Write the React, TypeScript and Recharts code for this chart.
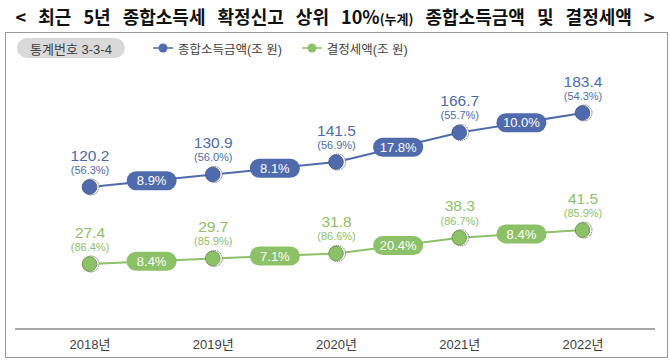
import { Line, LineChart, XAxis, YAxis } from "recharts";

const years = ["2018년", "2019년", "2020년", "2021년", "2022년"];
const incomeValues = [120.2, 130.9, 141.5, 166.7, 183.4];
const incomeShares = ["56.3%", "56.0%", "56.9%", "55.7%", "54.3%"];
const incomeGrowth = ["8.9%", "8.1%", "17.8%", "10.0%"];
const taxValues = [27.4, 29.7, 31.8, 38.3, 41.5];
const taxShares = ["86.4%", "85.9%", "86.6%", "86.7%", "85.9%"];
const taxGrowth = ["8.4%", "7.1%", "20.4%", "8.4%"];

const BLUE = "#4f6bad";
const BLUE_DARK = "#3a4f85";
const GREEN = "#8cc168";
const GREEN_DARK = "#5f8f40";
const LABEL_FONT = "'Liberation Sans', 'Noto Sans CJK KR', sans-serif";
const NARROW_FONT = "'Liberation Sans Narrow', 'Liberation Sans', 'Noto Sans CJK KR', sans-serif";

const pointData = years.map((year, i) => ({
  x: i,
  year,
  income: incomeValues[i],
  tax: taxValues[i],
}));

// pills sit half way between two years, on the line
const incomePills = incomeGrowth.map((g, i) => ({
  x: i + 0.5,
  v: (incomeValues[i] + incomeValues[i + 1]) / 2,
  label: g,
}));
const taxPills = taxGrowth.map((g, i) => ({
  x: i + 0.5,
  v: (taxValues[i] + taxValues[i + 1]) / 2,
  label: g,
}));

function makeDot(color: string, edge: string) {
  return (props: any) => {
    const { cx, cy, index } = props;
    if (cx == null || cy == null) return <g key={`d-${index}`} />;
    return (
      <g key={`d-${index}`}>
        <circle cx={cx + 1} cy={cy} r={8} fill="#fff" stroke="#6b6b6b" strokeWidth={1} strokeDasharray="1.2 0.8" />
        <circle cx={cx - 0.5} cy={cy} r={7.3} fill={color} stroke={edge} strokeWidth={0.8} />
      </g>
    );
  };
}

function makePill(color: string) {
  return (props: any) => {
    const { cx, cy, index, payload } = props;
    if (cx == null || cy == null) return <g key={`p-${index}`} />;
    return (
      <g key={`p-${index}`}>
        <rect x={cx - 25} y={cy - 9.5} width={50} height={19} rx={9.5} fill={color} />
        <text
          x={cx}
          y={cy}
          dy="0.36em"
          textAnchor="middle"
          fill="#fff"
          fontSize={13}
          fontFamily={NARROW_FONT}
        >
          {payload.label}
        </text>
      </g>
    );
  };
}

function makeLabel(color: string, values: number[], shares: string[]) {
  return (props: any) => {
    const { x, y, index } = props;
    return (
      <g key={`l-${index}`}>
        <text x={x} y={y - 32} dy="0.36em" textAnchor="middle" fill={color} fontSize={15.5} fontFamily={LABEL_FONT}>
          {values[index].toFixed(1)}
        </text>
        <text x={x} y={y - 17} dy="0.36em" textAnchor="middle" fill={color} fontSize={11} fontFamily={LABEL_FONT}>
          ({shares[index]})
        </text>
      </g>
    );
  };
}

function Legend() {
  return (
    <div style={{ position: "absolute", left: 17, top: 38, height: 20, display: "flex", alignItems: "center", fontFamily: NARROW_FONT, color: "#404040" }}>
      <div
        style={{
          width: 108,
          height: 20,
          borderRadius: 10,
          background: "#d9d9d9",
          fontSize: 13,
          display: "flex",
          alignItems: "center",
          justifyContent: "center",
        }}
      >
        통계번호 3-3-4
      </div>
      <svg width={20} height={12} style={{ marginLeft: 28 }}>
        <line x1={0} y1={6} x2={20} y2={6} stroke={BLUE} strokeWidth={1.5} />
        <circle cx={10} cy={6} r={4.5} fill={BLUE} />
      </svg>
      <span style={{ fontSize: 12.5, marginLeft: 5 }}>종합소득금액(조 원)</span>
      <svg width={20} height={12} style={{ marginLeft: 20 }}>
        <line x1={0} y1={6} x2={20} y2={6} stroke={GREEN} strokeWidth={1.5} />
        <circle cx={10} cy={6} r={4.5} fill={GREEN} />
      </svg>
      <span style={{ fontSize: 12.5, marginLeft: 5 }}>결정세액(조 원)</span>
    </div>
  );
}

export default function App() {
  return (
    <div style={{ position: "absolute", left: 0, top: 0, width: 670, height: 361, background: "#fff", overflow: "hidden" }}>
      <div
        style={{
          position: "absolute",
          left: 0,
          top: 3,
          width: 670,
          textAlign: "center",
          fontFamily: "'Noto Sans CJK KR', sans-serif",
          fontWeight: 700,
          fontSize: 18,
          wordSpacing: 8,
          color: "#111",
          whiteSpace: "nowrap",
        }}
      >
        &lt; 최근 5년 종합소득세 확정신고 상위 10%<span style={{ fontSize: 13 }}>(누계)</span> 종합소득금액 및 결정세액 &gt;
      </div>
      <div style={{ position: "absolute", left: 5, top: 32, width: 661, height: 324, border: "1px solid #9a9a9a" }} />
      <Legend />
      <div style={{ position: "absolute", left: 0, top: 0 }}>
        <LineChart width={670} height={361} margin={{ top: 58.5, right: 15, bottom: 12, left: 15 }}>
          <XAxis
            type="number"
            dataKey="x"
            domain={[-0.6085, 4.584]}
            ticks={[0, 1, 2, 3, 4]}
            tickFormatter={(v: number) => years[v]}
            allowDataOverflow
            height={20}
            tickLine={false}
            tickSize={0}
            tickMargin={11}
            axisLine={{ stroke: "#a6a6a6", strokeWidth: 2 }}
            tick={{ fill: "#404040", fontSize: 13, fontFamily: NARROW_FONT }}
          />
          <YAxis yAxisId="income" hide domain={[-1.06, 229.9]} allowDataOverflow />
          <YAxis yAxisId="tax" hide domain={[0.43, 112.7]} allowDataOverflow />
          <Line
            yAxisId="income"
            data={pointData}
            dataKey="income"
            stroke={BLUE}
            strokeWidth={2}
            dot={makeDot(BLUE, BLUE_DARK)}
            label={makeLabel(BLUE, incomeValues, incomeShares)}
            isAnimationActive={false}
          />
          <Line
            yAxisId="income"
            data={incomePills}
            dataKey="v"
            stroke="none"
            dot={makePill(BLUE)}
            isAnimationActive={false}
          />
          <Line
            yAxisId="tax"
            data={pointData}
            dataKey="tax"
            stroke={GREEN}
            strokeWidth={2}
            dot={makeDot(GREEN, GREEN_DARK)}
            label={makeLabel(GREEN, taxValues, taxShares)}
            isAnimationActive={false}
          />
          <Line
            yAxisId="tax"
            data={taxPills}
            dataKey="v"
            stroke="none"
            dot={makePill(GREEN)}
            isAnimationActive={false}
          />
        </LineChart>
      </div>
    </div>
  );
}
